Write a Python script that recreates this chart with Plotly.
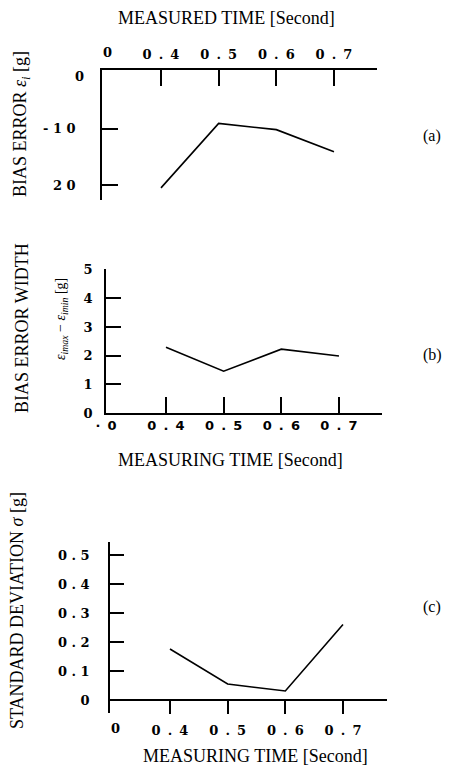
import plotly.graph_objects as go

W, H = 451, 767

# ---- data ----
time_a = [0.4, 0.5, 0.6, 0.7]
bias_error = [-20.5, -9.1, -10.2, -14.1]

time_b = [0.4, 0.5, 0.6, 0.7]
bias_width = [2.3, 1.46, 2.23, 1.99]

time_c = [0.4, 0.5, 0.6, 0.7]
std_dev = [0.176, 0.055, 0.031, 0.26]

NB = "\u00a0"
TH = "\u2009"
x_tick_vals = [0.4, 0.5, 0.6, 0.7]
x_tick_text = ["0 . 4", "0 . 5", "0 . 6", "0 . 7"]

ya_vals = [-10, -20]
ya_text = ["- 1 0", "2 0"]
yb_vals = [0, 1, 2, 3, 4, 5]
yb_text = ["0", "1", "2", "3", "4", "5"]
yc_vals = [0, 0.1, 0.2, 0.3, 0.4, 0.5]
yc_text = ["0", "0 . 1", "0 . 2", "0 . 3", "0 . 4", "0 . 5"]


def spaced(lst, sep=NB + TH):
    return [s.replace(" ", sep) for s in lst]


def px(x):
    return x / W


def py(y):
    return 1 - y / H


SERIF = "Liberation Serif"
DSERIF = "DejaVu Serif"
DSANS = "DejaVu Sans"
LINE = dict(color="black", width=1.6)

fig = go.Figure()
fig.add_trace(go.Scatter(x=time_a, y=bias_error, mode="lines", line=LINE,
                         xaxis="x", yaxis="y", showlegend=False))
fig.add_trace(go.Scatter(x=time_b, y=bias_width, mode="lines", line=LINE,
                         xaxis="x2", yaxis="y2", showlegend=False))
fig.add_trace(go.Scatter(x=time_c, y=std_dev, mode="lines", line=LINE,
                         xaxis="x3", yaxis="y3", showlegend=False))

common = dict(showgrid=False, zeroline=False, showline=True, linecolor="black",
              linewidth=1.6, tickcolor="black", tickwidth=1.6, fixedrange=True,
              automargin=False)

TICKF = dict(family=DSERIF, size=13, color="black", weight="bold")
xa0, xb0, xc0 = 0.2977, 0.296, 0.296

fig.update_layout(
    template="none",
    width=W, height=H, margin=dict(l=0, r=0, t=0, b=0),
    paper_bgcolor="white", plot_bgcolor="white",
    xaxis=dict(domain=[px(102), px(377)], range=[xa0, 0.7746], anchor="y",
               side="top", ticks="inside", ticklen=16,
               tickvals=x_tick_vals, ticktext=spaced(x_tick_text),
               tickfont=TICKF, ticklabelstandoff=4, **common),
    yaxis=dict(domain=[py(200), py(70)], range=[-22.65, 0.35], anchor="x",
               ticks="inside", ticklen=16, tickvals=ya_vals,
               ticktext=spaced(ya_text, NB),
               tickfont=TICKF, ticklabelstandoff=22, **common),
    xaxis2=dict(domain=[px(106), px(382)], range=[xb0, 0.7746], anchor="y2",
                ticks="inside", ticklen=16,
                tickvals=[xb0] + x_tick_vals,
                ticktext=["·" + NB + TH + "0"] + spaced(x_tick_text),
                tickfont=dict(family=DSANS, size=13, color="black", weight="bold"),
                **common),
    yaxis2=dict(domain=[py(413), py(269)], range=[0, 5.03], anchor="x2",
                ticks="inside", ticklen=15, tickvals=yb_vals, ticktext=yb_text,
                tickfont=dict(family=DSERIF, size=13, color="black", weight="bold"),
                ticklabelstandoff=9, **common),
    xaxis3=dict(domain=[px(110), px(387)], range=[xc0, 0.7763], anchor="free",
                position=py(700), ticks="outside", ticklen=13,
                tickvals=x_tick_vals, ticktext=spaced(x_tick_text),
                tickfont=TICKF, ticklabelstandoff=6, **common),
    yaxis3=dict(domain=[py(713), py(542)], range=[-0.045, 0.545], anchor="x3",
                ticks="inside", ticklen=14, tickvals=yc_vals,
                ticktext=spaced(yc_text, NB),
                tickfont=TICKF, ticklabelstandoff=16, **common),
)

TFONT = dict(family=SERIF, size=18, color="black")


def ann(text, x, y, angle=0, font=TFONT, xanchor="center"):
    fig.add_annotation(text=text, x=px(x), y=py(y), xref="paper", yref="paper",
                       xanchor=xanchor, yanchor="middle", showarrow=False,
                       textangle=angle, font=font)


# origin labels drawn without tick marks in the original
ann("0", 86, 77, 0, TICKF, "right")
ann("0", 107, 52, 0, TICKF)
ann("0", 115, 728, 0, TICKF)

ann("MEASURED TIME [Second]", 226, 18)
ann("MEASURING TIME [Second]", 230, 460)
ann("MEASURING TIME [Second]", 255, 756)

ann("BIAS ERROR <i>ε<sub>i</sub></i> [g]", 22, 124, -90)
ann("BIAS ERROR WIDTH", 22, 328, -90)
ann("<i>ε<sub>imax</sub></i> − <i>ε<sub>imin</sub></i> [g]", 62, 319, -90,
    dict(family=SERIF, size=14, color="black"))
ann("STANDARD DEVIATION <i>σ</i> [g]", 17, 611, -90)

LFONT = dict(family=SERIF, size=16, color="black")
ann("(a)", 432, 136, 0, LFONT)
ann("(b)", 432, 355, 0, LFONT)
ann("(c)", 432, 607, 0, LFONT)

fig.write_html("out.html")
